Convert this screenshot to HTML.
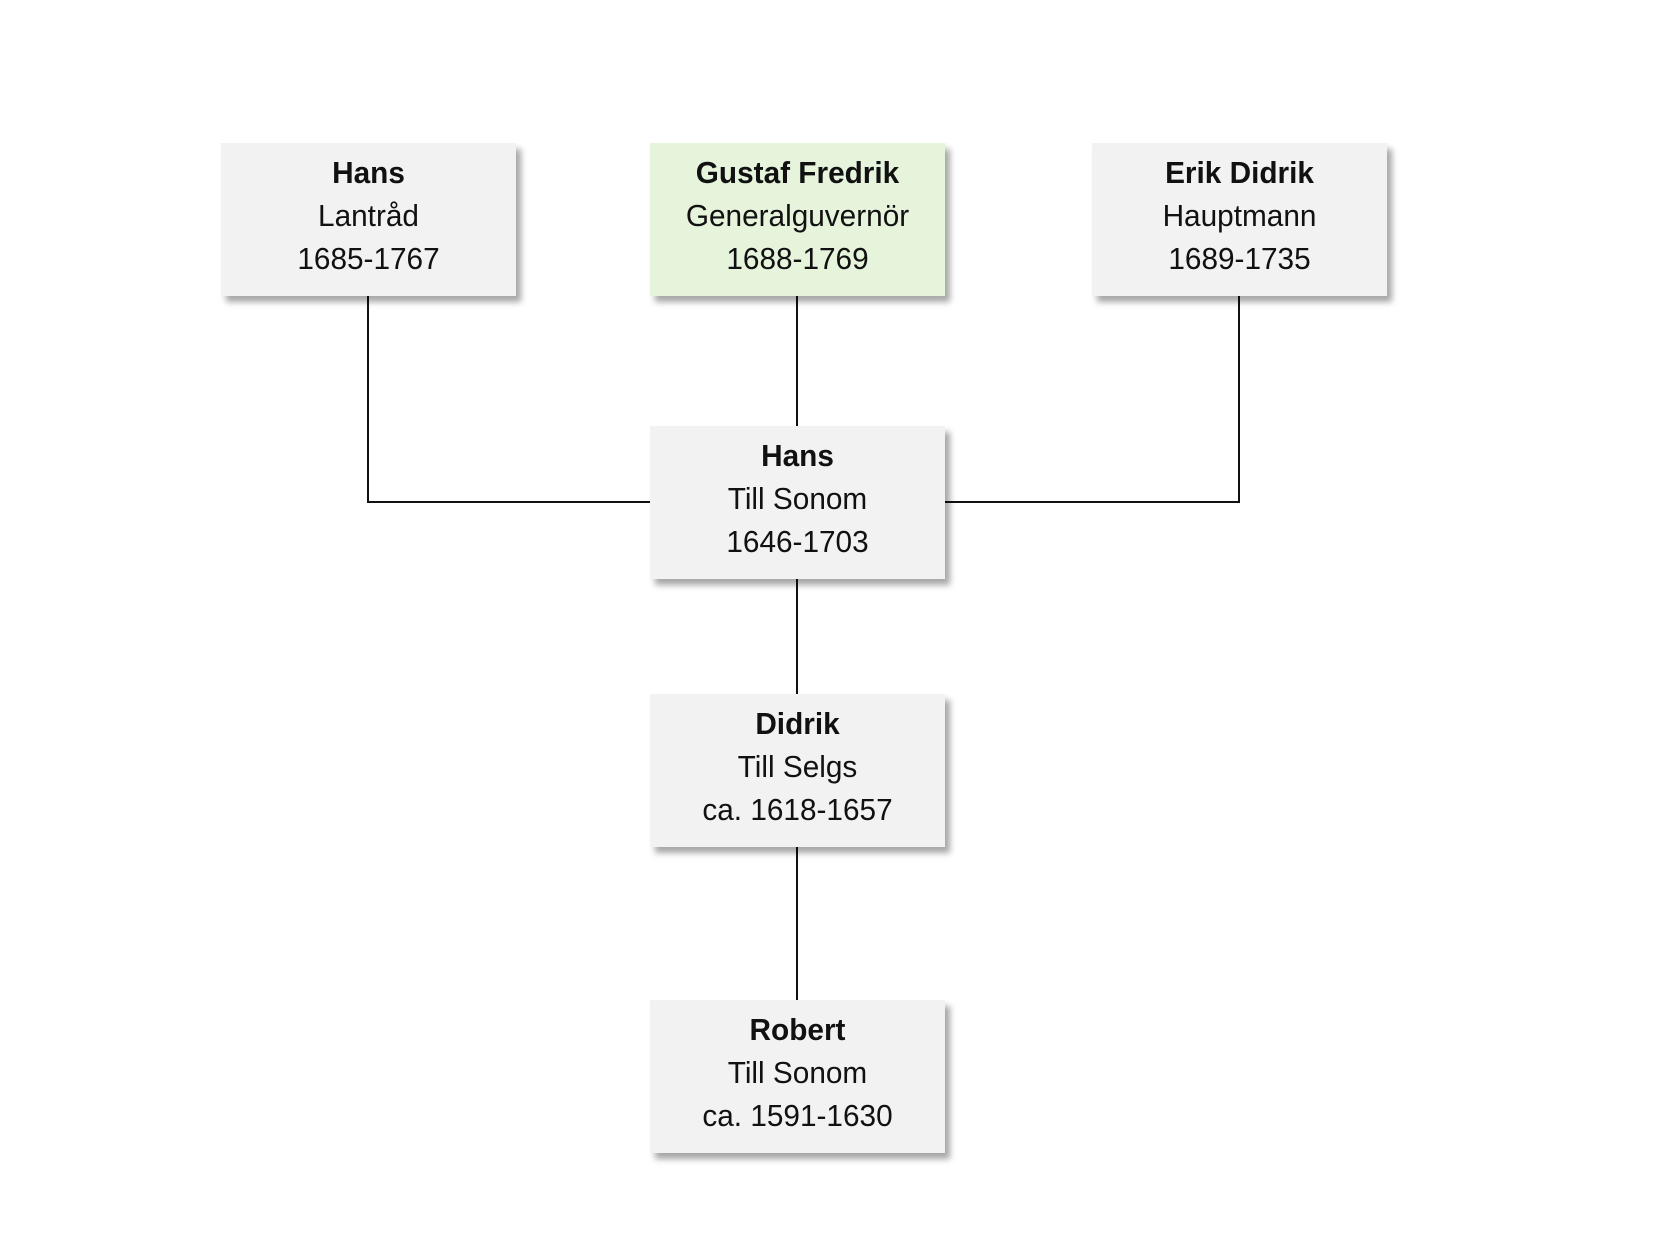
<!DOCTYPE html>
<html><head><meta charset="utf-8"><style>
html,body{margin:0;padding:0;background:#fff;}
body{width:1665px;height:1260px;position:relative;overflow:hidden;font-family:"Liberation Sans Narrow","Liberation Sans",sans-serif;}
.b{position:absolute;width:295px;height:153px;background:#f2f2f2;box-shadow:5px 6px 6px rgba(0,0,0,0.35);text-align:center;}
.g{background:#e6f4dc;}
.t{position:absolute;left:0;right:0;top:8px;}
.t div{font-size:31px;line-height:43px;color:#111;transform:scaleX(0.96);white-space:nowrap;}
.t div.n{font-weight:bold;}
.l{position:absolute;background:#111;}
</style></head><body>
<div class="l" style="left:367px;top:296px;width:2px;height:207px"></div>
<div class="l" style="left:367px;top:501px;width:283px;height:2px"></div>
<div class="l" style="left:1238px;top:296px;width:2px;height:207px"></div>
<div class="l" style="left:945px;top:501px;width:295px;height:2px"></div>
<div class="l" style="left:796px;top:296px;width:2px;height:130px"></div>
<div class="l" style="left:796px;top:578px;width:2px;height:116px"></div>
<div class="l" style="left:796px;top:846px;width:2px;height:154px"></div>

<div class="b" style="left:221px;top:143px"><div class="t"><div class="n">Hans</div><div>Lantråd</div><div>1685-1767</div></div></div>
<div class="b g" style="left:650px;top:143px"><div class="t"><div class="n">Gustaf Fredrik</div><div>Generalguvernör</div><div>1688-1769</div></div></div>
<div class="b" style="left:1092px;top:143px"><div class="t"><div class="n">Erik Didrik</div><div>Hauptmann</div><div>1689-1735</div></div></div>
<div class="b" style="left:650px;top:426px"><div class="t"><div class="n">Hans</div><div>Till Sonom</div><div>1646-1703</div></div></div>
<div class="b" style="left:650px;top:694px"><div class="t"><div class="n">Didrik</div><div>Till Selgs</div><div>ca. 1618-1657</div></div></div>
<div class="b" style="left:650px;top:1000px"><div class="t"><div class="n">Robert</div><div>Till Sonom</div><div>ca. 1591-1630</div></div></div>
</body></html>
